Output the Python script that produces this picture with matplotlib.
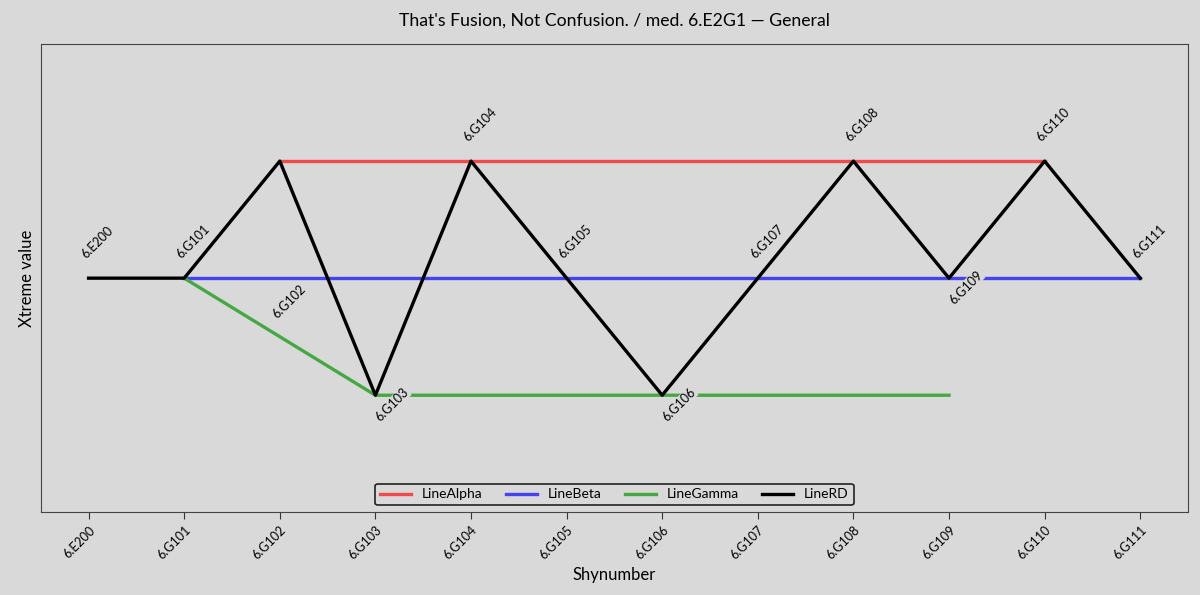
import matplotlib
matplotlib.use("Agg")
import matplotlib.pyplot as plt

# dados
rotulos = ["6.E200", "6.G101", "6.G102", "6.G103", "6.G104", "6.G105",
           "6.G106", "6.G107", "6.G108", "6.G109", "6.G110", "6.G111"]
linha_rd = [0, 0, 1, -1, 1, 0, -1, 0, 1, 0, 1, 0]
alpha_x = ["6.G102", "6.G110"]
alpha_y = [1, 1]
beta_x = ["6.G101", "6.G111"]
beta_y = [0, 0]
gamma_x = ["6.G101", "6.G103", "6.G109"]
gamma_y = [0, -1, -1]

# posicao dos rotulos (em pontos, relativo ao ponto)
acima = (6.5, 26)
abaixo = (12, -7)
deslocamentos = {"6.G102": (6.5, -101), "6.G103": abaixo, "6.G106": abaixo, "6.G109": abaixo}

FUNDO = "#d9d9d9"
plt.rcParams["font.family"] = ["Lato", "DejaVu Sans"]

fig = plt.figure(figsize=(12, 5.95), dpi=100, facecolor=FUNDO)
ax = fig.add_axes([0.034, 0.139, 0.956, 0.787], facecolor=FUNDO)

idx = {r: i for i, r in enumerate(rotulos)}
ax.plot([idx[r] for r in alpha_x], alpha_y, color="#f04a4a", lw=2.4, label="LineAlpha")
ax.plot([idx[r] for r in beta_x], beta_y, color="#4343f0", lw=2.4, label="LineBeta")
ax.plot([idx[r] for r in gamma_x], gamma_y, color="#45a845", lw=2.4, label="LineGamma")
ax.plot(range(len(rotulos)), linha_rd, color="black", lw=2.4, label="LineRD")

for i, (r, v) in enumerate(zip(rotulos, linha_rd)):
    off = deslocamentos.get(r, acima)
    kw = {}
    if r in deslocamentos:
        kw["bbox"] = dict(boxstyle="square,pad=0.05", fc=FUNDO, ec="none")
    ax.annotate(r, (i, v), xytext=off, textcoords="offset points",
                rotation=45, ha="center", va="center", fontsize=9, **kw)

ax.set_xlim(-0.5, len(rotulos) - 0.5)
ax.set_ylim(-2, 2)
ax.set_xticks(range(len(rotulos)))
ax.set_xticklabels(rotulos, rotation=45, ha="right", rotation_mode="anchor", fontsize=9)
ax.set_yticks([])
for s in ax.spines.values():
    s.set_color("#444444")
ax.tick_params(axis="x", length=5, color="#333333")

ax.set_xlabel("Shynumber", fontsize=12)
ax.set_ylabel("Xtreme value", fontsize=12)
ax.set_title("That's Fusion, Not Confusion. / med. 6.E2G1 \u2014 General", fontsize=12.7, pad=13)

leg = ax.legend(loc="lower center", ncol=4, fontsize=10, facecolor=FUNDO,
                edgecolor="#222222", framealpha=1, borderaxespad=0.5,
                handlelength=2.2, columnspacing=1.7, borderpad=0.35)
leg.get_frame().set_linewidth(1.2)

fig.savefig("out.png", dpi=100, facecolor=FUNDO)
